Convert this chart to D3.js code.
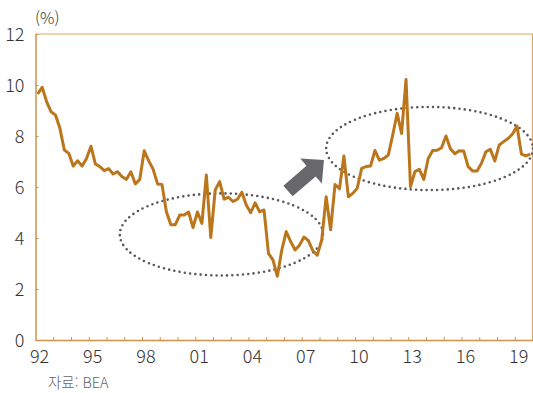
<!DOCTYPE html>
<html lang="ko">
<head>
<meta charset="utf-8">
<title>Quarterly rate, 1992-2019</title>
<style>
body { margin: 0; background: #fff; }
svg { display: block; }
.axis text { font: 300 18px "Noto Sans CJK KR", "Noto Sans", sans-serif; fill: #333; }
.axis path, .axis line { stroke: #d0934a; }
</style>
</head>
<body>
<svg width="533" height="393"></svg>
<script src="https://cdn.jsdelivr.net/npm/d3@7"></script>
<script>

// years on the x axis (quarterly data, 1992Q1 - 2019Q4)
const YEARS = d3.range(1992, 2020);
const QUARTERS = ['Q1', 'Q2', 'Q3', 'Q4'];
const TICK_LABELS = ['92', '95', '98', '01', '04', '07', '10', '13', '16', '19'];
const Y_TICKS = [0, 2, 4, 6, 8, 10, 12];

// values, one per quarter
const VALUES = [
  9.65, 9.91, 9.35, 8.95, 8.82, 8.30, 7.45, 7.32,
  6.82, 7.03, 6.82, 7.12, 7.60, 6.90, 6.80, 6.64,
  6.72, 6.51, 6.60, 6.40, 6.30, 6.60, 6.12, 6.30,
  7.42, 7.03, 6.70, 6.12, 6.10, 5.03, 4.52, 4.52,
  4.90, 4.90, 5.02, 4.41, 5.02, 4.57, 6.47, 4.02,
  5.88, 6.21, 5.52, 5.60, 5.43, 5.52, 5.79, 5.29,
  4.99, 5.38, 5.03, 5.10, 3.40, 3.14, 2.50, 3.53,
  4.25, 3.86, 3.53, 3.72, 4.04, 3.90, 3.50, 3.33,
  3.92, 5.62, 4.32, 6.10, 5.93, 7.22, 5.62, 5.75,
  5.95, 6.73, 6.80, 6.82, 7.43, 7.05, 7.12, 7.25,
  8.04, 8.89, 8.10, 10.22, 6.01, 6.60, 6.69, 6.30,
  7.12, 7.43, 7.44, 7.54, 8.00, 7.50, 7.30, 7.42,
  7.41, 6.80, 6.63, 6.63, 6.93, 7.38, 7.48, 7.02,
  7.65, 7.78, 7.90, 8.08, 8.39, 7.29, 7.22, 7.29
];

const categories = [];
YEARS.forEach(yr => QUARTERS.forEach(q => categories.push(yr + q)));
const data = categories.map((c, i) => ({cat: c, value: VALUES[i]}));

const svg = d3.select('svg'),
    margin = {top: 34, right: 0.5, bottom: 53, left: 35.5},
    width = +svg.attr('width') - margin.left - margin.right,
    height = +svg.attr('height') - margin.top - margin.bottom;

const x = d3.scaleBand().domain(categories).range([0, width]);
// helper for annotations, in quarter units
const xi = d3.scaleLinear().domain([0, categories.length]).range([0, width]);
const y = d3.scaleLinear().domain([0, 12]).range([height, 0]);

const g = svg.append('g')
    .attr('transform', 'translate(' + margin.left + ',' + margin.top + ')');

// frame: top and right
g.append('path')
    .attr('d', 'M0,0H' + width + 'V' + height)
    .attr('fill', 'none')
    .attr('stroke', '#d9a867')
    .attr('stroke-width', 1.2);

// y axis
const yAxis = g.append('g')
    .attr('class', 'axis')
    .call(d3.axisLeft(y).tickValues(Y_TICKS).tickSize(-3).tickSizeOuter(0).tickPadding(11));
yAxis.selectAll('text').attr('dy', '0.36em');
yAxis.select('.domain').attr('stroke-width', 1.5);

// x axis: tick at the start of every year, labels every third year
const yearStarts = YEARS.slice(1).map(yr => yr + 'Q1');
const xAxis = g.append('g')
    .attr('class', 'axis')
    .attr('transform', 'translate(0,' + height + ')')
    .call(d3.axisBottom(x).tickValues(yearStarts).tickSize(-3).tickSizeOuter(0).tickFormat(''));
xAxis.selectAll('.tick').attr('transform', d => 'translate(' + (x(d) + 0.5) + ',0)');
xAxis.select('.domain').attr('stroke-width', 1.5);

g.append('g')
    .attr('class', 'axis')
    .selectAll('text')
    .data(TICK_LABELS)
    .enter().append('text')
      .attr('x', d => {
        const yr = +d < 50 ? 2000 + +d : 1900 + +d;
        return x(yr + 'Q1') + 4;
      })
      .attr('y', height + 23)
      .attr('text-anchor', 'middle')
      .text(d => d);

// unit label
svg.append('text')
    .attr('x', 35)
    .attr('y', 24)
    .attr('font-family', '"Noto Sans CJK KR", sans-serif')
    .attr('font-weight', 300)
    .attr('font-size', 16)
    .attr('fill', '#333')
    .text('(%)');

// source
svg.append('text')
    .attr('x', 48)
    .attr('y', 388)
    .attr('font-family', '"Noto Sans CJK KR", sans-serif')
    .attr('font-weight', 300)
    .attr('font-size', 14.5)
    .attr('fill', '#666')
    .text('자료: BEA');

// dotted ellipses (centre in quarters / value units)
const ELLIPSES = [
  {cx: 41.9, cy: 4.14, rx: 22.9, ry: 1.61},
  {cx: 88.8, cy: 7.51, rx: 23.3, ry: 1.63}
];
g.append('g')
  .selectAll('ellipse')
  .data(ELLIPSES)
  .enter().append('ellipse')
    .attr('cx', d => xi(d.cx))
    .attr('cy', d => y(d.cy))
    .attr('rx', d => xi(d.rx))
    .attr('ry', d => y(0) - y(d.ry))
    .attr('fill', 'none')
    .attr('stroke', '#5a5a5e')
    .attr('stroke-width', 2.6)
    .attr('stroke-linecap', 'round')
    .attr('stroke-dasharray', '0 5.3');

// the line
const line = d3.line()
    .x(d => x(d.cat) + x.bandwidth() / 2)
    .y(d => y(d.value));

g.append('path')
    .datum(data)
    .attr('fill', 'none')
    .attr('stroke', '#bb761b')
    .attr('stroke-width', 3)
    .attr('stroke-linejoin', 'round')
    .attr('d', line);

// arrow between the two ellipses
const tail = [xi(56.9), y(5.84)], tip = [xi(65.0), y(7.06)];
const dx = tip[0] - tail[0], dy = tip[1] - tail[1];
const len = Math.sqrt(dx * dx + dy * dy);
const ang = Math.atan2(dy, dx) * 180 / Math.PI;
const headLen = 17, sw = 7, hw = 16.5;
g.append('path')
    .attr('transform', 'translate(' + tail + ') rotate(' + ang + ')')
    .attr('d', 'M0,' + (-sw) + 'H' + (len - headLen) + 'V' + (-hw) + 'L' + len + ',0' +
               'L' + (len - headLen) + ',' + hw + 'V' + sw + 'H0Z')
    .attr('fill', '#68686c');

</script>
</body>
</html>
